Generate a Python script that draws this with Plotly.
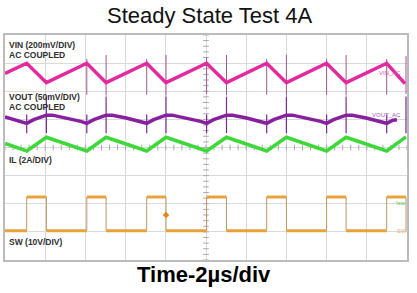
import plotly.graph_objects as go

# ---------------- data ----------------
# switching edges of SW (µs from left edge of screen, 2 µs/div)
sw_rise_us = [1.08, 4.07, 7.05, 10.03, 13.02, 16.0, 18.99]
sw_fall_us = [2.06, 5.03, 8.01, 11.02, 14.0, 16.97, 19.95]
sw_low_v = 0.0
sw_high_v = 12.0

# VIN (AC coupled, mV)
vin_t_us = [0, 1.08, 2.06, 4.07, 5.03, 7.05, 8.01, 10.03, 11.02, 13.02, 14.0, 16.0, 16.97, 18.99, 19.9]
vin_mv = [-3, 69, -69, 69, -69, 69, -69, 69, -69, 69, -69, 69, -69, 69, -76]

# VIN switching spikes (mV)
vin_spike_t_us = [4.07, 5.03, 7.05, 8.01, 10.03, 11.02, 13.02, 14.0, 16.0, 16.97, 18.99, 19.95]
vin_spike_hi_mv = [100, 128, 100, 128, 110, 128, 100, 128, 100, 128, 100, 120]
vin_spike_lo_mv = [-155, -160, -155, -160, -150, -160, -155, -160, -155, -160, -155, -150]

# VOUT (AC coupled, mV)
vout_t_us = [0, 0.78, 1.08, 1.43, 2.06, 2.36, 3.06, 3.77, 4.07, 4.42, 5.03, 5.33, 6.03, 6.75,
             7.05, 7.40, 8.01, 8.31, 9.01, 9.73, 10.03, 10.38, 11.02, 11.32, 12.02, 12.72,
             13.02, 13.37, 14.0, 14.3, 15.0, 15.7, 16.0, 16.35, 16.97, 17.27, 17.97, 18.69,
             18.99, 19.3, 19.5]
vout_mv = [2, -6, -9.5, -3, 5, 5, 0, -6, -9.5, -3, 5, 5, 0, -6,
           -9.5, -3, 5, 5, 0, -6, -9.5, -3, 5, 5, 0, -6,
           -9.5, -3, 5, 5, 0, -6, -9.5, -3, 5, 5, 0, -6,
           -9.5, -4, -3]

# VOUT switching spikes (mV)
vout_spike_t_us = [1.08, 2.06, 4.07, 5.03, 7.05, 8.01, 10.03, 11.02, 13.02, 14.0, 16.0, 16.97, 18.99, 19.95]
vout_spike_hi_mv = [6, 38, 6, 38, 6, 38, 6, 38, 6, 38, 6, 38, 6, 38]
vout_spike_lo_mv = [-27, -27, -27, -27, -27, -27, -27, -27, -27, -27, -27, -27, -27, -27]

# inductor current (A)
il_t_us = [0, 1.08, 2.06, 4.07, 5.03, 7.05, 8.01, 10.03, 11.02, 13.02, 14.0, 16.0, 16.97, 18.99, 19.95]
il_a = [4.05, 3.51, 4.49, 3.51, 4.49, 3.51, 4.49, 3.51, 4.49, 3.51, 4.49, 3.51, 4.49, 3.51, 4.52]

# trigger marker
trig_t_us = 8.01
trig_v = 5.6

# ---------------- scope settings (positions / scales) ----------------
N_DIV_X, N_DIV_Y = 10, 8
TIME_PER_DIV = 2.0
channels = {
    "vin": dict(scale=200.0, pos=6.65),   # mV/div, ground position in div
    "vout": dict(scale=50.0, pos=5.05),
    "il": dict(scale=2.0, pos=2.12),
    "sw": dict(scale=10.0, pos=1.04),
}

def ch_range(ch):
    c = channels[ch]
    return [-c["pos"] * c["scale"], (N_DIV_Y - c["pos"]) * c["scale"]]

C_VIN = "#e22a9e"
C_VOUT = "#86209f"
C_IL = "#3fd83a"
C_SW = "#e9a23b"

W, H = 417, 293
ML, MR, MT, MB = 5, 10, 35, 33
PW, PH = W - ML - MR, H - MT - MB

def px_x(px):
    return (px - ML) / PW

def px_y(py):
    return (H - MB - py) / PH

fig = go.Figure()

# graticule centre ticks
t_end = N_DIV_X * TIME_PER_DIV
fig.add_trace(go.Scatter(
    x=[t_end / 2] * (N_DIV_Y * 5 + 1), y=[k * 0.2 for k in range(N_DIV_Y * 5 + 1)],
    mode="markers", marker=dict(symbol="line-ew", size=4, line=dict(width=1, color="#a8a8a8")),
    hoverinfo="skip", xaxis="x", yaxis="y"))
fig.add_trace(go.Scatter(
    x=[k * 0.2 * TIME_PER_DIV for k in range(N_DIV_X * 5 + 1)], y=[N_DIV_Y / 2] * (N_DIV_X * 5 + 1),
    mode="markers", marker=dict(symbol="line-ns", size=4, line=dict(width=1, color="#a8a8a8")),
    hoverinfo="skip", xaxis="x", yaxis="y"))

# spikes
def spike_xy(ts, his, los):
    xs, ys = [], []
    for t, h, l in zip(ts, his, los):
        xs += [t, t, None]
        ys += [h, l, None]
    return xs, ys

sx, sy = spike_xy(vin_spike_t_us, vin_spike_hi_mv, vin_spike_lo_mv)
fig.add_trace(go.Scatter(x=sx, y=sy, mode="lines", line=dict(color="#a0578f", width=1),
                         yaxis="y2", hoverinfo="skip"))
sx, sy = spike_xy(vout_spike_t_us, vout_spike_hi_mv, vout_spike_lo_mv)
fig.add_trace(go.Scatter(x=sx, y=sy, mode="lines", line=dict(color="#7a2a90", width=1.2),
                         yaxis="y3", hoverinfo="skip"))

# VIN
fig.add_trace(go.Scatter(x=vin_t_us, y=vin_mv, mode="lines", line=dict(color=C_VIN, width=3.5),
                         yaxis="y2", name="VIN_AC"))
# VOUT
fig.add_trace(go.Scatter(x=vout_t_us, y=vout_mv, mode="lines", line=dict(color=C_VOUT, width=3.5),
                         yaxis="y3", name="VOUT_AC"))
# IL
fig.add_trace(go.Scatter(x=il_t_us, y=il_a, mode="lines", line=dict(color=C_IL, width=3.5),
                         yaxis="y4", name="IL"))

# SW: thin edges + thick flat segments
ex, ey = [], []
for r, f in zip(sw_rise_us, sw_fall_us):
    ex += [r, r, None, f, f, None]
    ey += [sw_low_v, sw_high_v, None, sw_high_v, sw_low_v, None]
fig.add_trace(go.Scatter(x=ex, y=ey, mode="lines", line=dict(color="#b9976a", width=1),
                         yaxis="y5", hoverinfo="skip"))
fx, fy = [], []
prev = 0.0
for r, f in zip(sw_rise_us, sw_fall_us):
    fx += [prev, r, None, r, f, None]
    fy += [sw_low_v, sw_low_v, None, sw_high_v, sw_high_v, None]
    prev = f
fig.add_trace(go.Scatter(x=fx, y=fy, mode="lines", line=dict(color=C_SW, width=3),
                         yaxis="y5", name="SW"))
fig.add_trace(go.Scatter(x=[trig_t_us], y=[trig_v], mode="markers",
                         marker=dict(symbol="diamond", size=5, color="#e8861a"),
                         yaxis="y5", hoverinfo="skip"))

ax_common = dict(showticklabels=False, ticks="", zeroline=False, fixedrange=True)
fig.update_layout(
    width=W, height=H, margin=dict(l=ML, r=MR, t=MT, b=MB),
    paper_bgcolor="white", plot_bgcolor="white", showlegend=False,
    xaxis=dict(range=[0, t_end], dtick=TIME_PER_DIV, tick0=0, showgrid=True, gridcolor="#dadada",
               gridwidth=1, showline=True, mirror=True, linecolor="#bcbcbc", linewidth=1.5, **ax_common),
    yaxis=dict(range=[0, N_DIV_Y], dtick=1, tick0=0, showgrid=True, gridcolor="#dadada",
               gridwidth=1, showline=True, mirror=True, linecolor="#bcbcbc", linewidth=1.5, **ax_common),
    yaxis2=dict(overlaying="y", range=ch_range("vin"), visible=False, fixedrange=True),
    yaxis3=dict(overlaying="y", range=ch_range("vout"), visible=False, fixedrange=True),
    yaxis4=dict(overlaying="y", range=ch_range("il"), visible=False, fixedrange=True),
    yaxis5=dict(overlaying="y", range=ch_range("sw"), visible=False, fixedrange=True),
)

lab_font = dict(family="Liberation Sans, Arial, sans-serif", size=8.5, color="#303030")
def left_label(text, py):
    fig.add_annotation(text="<b>%s</b>" % text, x=px_x(7), y=px_y(py), xref="paper", yref="paper",
                       xanchor="left", yanchor="middle", showarrow=False, font=lab_font)

left_label("VIN (200mV/DIV)", 45)
left_label("AC COUPLED", 55)
left_label("VOUT (50mV/DIV)", 97)
left_label("AC COUPLED", 106.5)
left_label("IL (2A/DIV)", 160)
left_label("SW (10V/DIV)", 242)

small = lambda c: dict(family="Liberation Sans, Arial, sans-serif", size=6, color=c)
fig.add_annotation(text="VIN_AC", x=19.15, y=0, xref="x", yref="y2", showarrow=False,
                   font=small("#d35ab0"))
fig.add_annotation(text="VOUT_AC", x=19.0, y=5, xref="x", yref="y3", showarrow=False,
                   font=small("#9d5cc0"))
fig.add_annotation(text="Isw", x=19.7, y=-0.18, xref="x", yref="y4", showarrow=False,
                   font=small("#55c855"))
fig.add_annotation(text="SW", x=19.75, y=0, xref="x", yref="y5", showarrow=False,
                   font=small("#e2b378"))

fig.add_annotation(text="Steady State Test 4A", x=px_x(209), y=px_y(15), xref="paper", yref="paper",
                   xanchor="center", yanchor="middle", showarrow=False,
                   font=dict(family="Liberation Sans, Arial, sans-serif", size=22, color="#111111"))
fig.add_annotation(text="<b>Time-2µs/div</b>", x=px_x(203.5), y=px_y(274), xref="paper", yref="paper",
                   xanchor="center", yanchor="middle", showarrow=False,
                   font=dict(family="Liberation Sans, Arial, sans-serif", size=22, color="#000000"))

fig.write_html("out.html", config={"displayModeBar": False},
               post_script="document.body.style.margin='0';document.body.style.padding='0';")
